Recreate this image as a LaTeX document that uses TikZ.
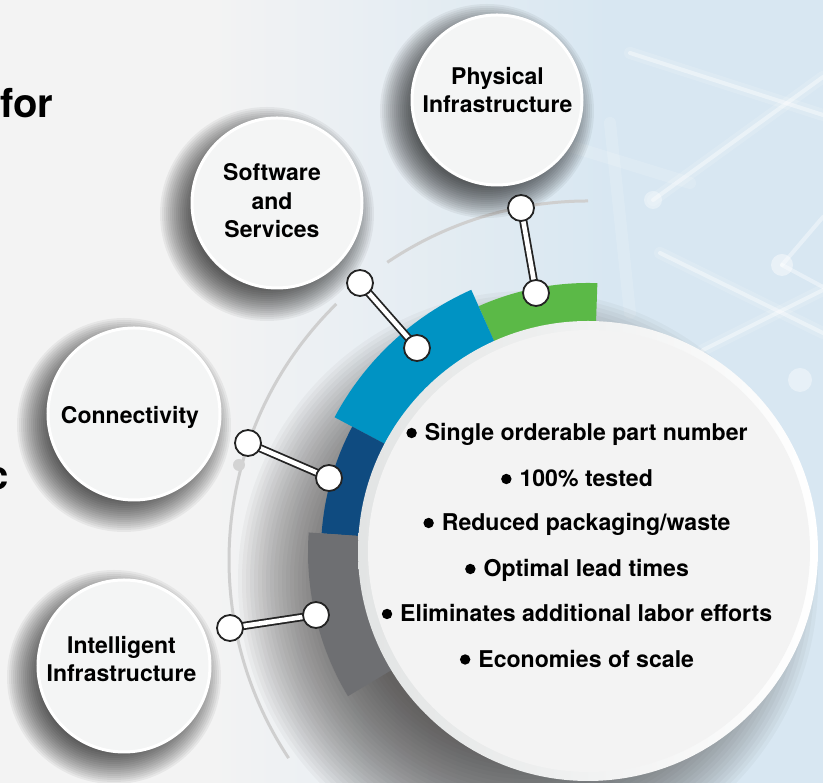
\documentclass[tikz,border=0pt]{standalone}
\usepackage{fontspec}
\setmainfont{TeX Gyre Heros}
\usetikzlibrary{calc}
\definecolor{bgL}{HTML}{F3F3F3}
\definecolor{bgR}{HTML}{D8E7F2}
\definecolor{cgreen}{HTML}{5BB947}
\definecolor{clblue}{HTML}{0093C3}
\definecolor{cdblue}{HTML}{0F4B80}
\definecolor{cgray}{HTML}{6E6F72}
\definecolor{thinarc}{HTML}{CFCFCF}
\definecolor{shd}{HTML}{3A3532}
\definecolor{satfill}{HTML}{F4F5F5}
\definecolor{mainfill}{HTML}{F3F3F3}
\definecolor{rimL}{HTML}{E2E4E4}
\definecolor{outl}{HTML}{232323}
\definecolor{dotc}{HTML}{D3D3D3}
\pgfdeclarehorizontalshading{bgshade}{100bp}{color(0bp)=(bgL); color(38bp)=(bgL); color(62bp)=(bgR); color(100bp)=(bgR)}
\newcommand\mybul{\tikz[baseline=-8pt]\fill[black] (0pt,0pt) circle[radius=5.2pt];\hspace{8pt}}
\tikzset{
  netline/.style={white, line width=4pt, opacity=0.4, line cap=round},
  netglow/.style={white, line width=12pt, opacity=0.15, line cap=round},
  satdisk/.style={circle, minimum size=#1, inner sep=0pt, fill=satfill, draw=white, line width=3pt},
  sattext/.style={align=center, font=\bfseries\fontsize{23}{28.5}\selectfont, text=black, inner sep=0pt},
  maintext/.style={anchor=base, font=\bfseries\fontsize{23.1}{28}\selectfont, text=black, inner sep=0pt},
  bigtext/.style={font=\bfseries\fontsize{40}{48}\selectfont, text=black, inner sep=0pt},
  conn/.style={draw=outl, line width=1.8pt, double=white, double distance=4.6pt},
  endc/.style={circle, minimum size=26pt, inner sep=0pt, fill=white, draw=outl, line width=1.8pt},
  thin/.style={thinarc, line width=3pt}
}
\begin{document}
\begin{tikzpicture}[x=1pt,y=1pt]
\useasboundingbox (0,0) rectangle (823,783);
% background
\shade[shading=bgshade] (0,0) rectangle (823,783);
% faint network
\draw[netglow] (630,730) -- (823,668);
\draw[netline] (630,730) -- (823,668);
\draw[netglow] (653,583) -- (823,706);
\draw[netline] (653,583) -- (823,706);
\draw[netglow] (660,530) -- (823,450);
\draw[netline] (660,530) -- (823,450);
\draw[netline] (782,518) -- (823,566);
\draw[netline] (782,518) -- (823,496);
\draw[netglow] (703,433) -- (823,493);
\draw[netline] (703,433) -- (823,493);
\draw[netglow] (610,660) -- (630,470);
\draw[netglow] (560,640) -- (690,600);
\fill[white, opacity=0.45] (782,518) circle[radius=11];
\fill[white, opacity=0.4] (800,403) circle[radius=12];
\fill[white, opacity=0.35] (653,583) circle[radius=9];
% big circle shadow
\foreach \r in {170,174,...,292} {
  \fill[shd, opacity=0.04] (528,202) circle[radius=\r];
}
% thin arcs
\draw[thin] (588,223) ++(90:359) arc[start angle=90, end angle=124, radius=359];
\draw[thin] (588,223) ++(134.5:359) arc[start angle=134.5, end angle=213.5, radius=359];
\fill[dotc] (239,318) circle[radius=6];
% coloured ring segments
\begin{scope}[shift={(588,231)}]
\fill[cgreen] (88:269) arc[start angle=88, end angle=114, radius=269] -- (114:215) arc[start angle=114, end angle=88, radius=215] -- cycle;
\fill[clblue] (114:287) arc[start angle=114, end angle=152, radius=287] -- (152:215) arc[start angle=152, end angle=114, radius=215] -- cycle;
\fill[cdblue] (152:267) arc[start angle=152, end angle=176, radius=267] -- (176:215) arc[start angle=176, end angle=152, radius=215] -- cycle;
\fill[cgray] (176:280) arc[start angle=176, end angle=211, radius=280] -- (211:215) arc[start angle=211, end angle=176, radius=215] -- cycle;
\end{scope}
% big circle
\shade[left color=rimL, right color=white] (588,232) circle[radius=230];
\fill[mainfill] (589,232) circle[radius=221];
% satellites: shadows
\foreach \cx/\cy in {497/683, 277/580, 134/369, 124/117} {
  \foreach \r in {75,77,...,107} {
    \fill[black, opacity=0.05] (\cx-10,\cy-11) circle[radius=\r];
  }
}
\node[satdisk=170pt] (phys) at (497,683) {};
\node[satdisk=170pt] (soft) at (277,580) {};
\node[satdisk=172pt] (conn) at (134,369) {};
\node[satdisk=172pt] (intel) at (124,117) {};
\node[sattext] (tphys) at (497.5,693) {Physical\\Infrastructure};
\node[sattext] (tsoft) at (272,582) {Software\\and\\Services};
\node[sattext] (tconn) at (130,366) {Connectivity};
\node[sattext] (tintel) at (121.5,124) {Intelligent\\Infrastructure};
% connectors
\coordinate (po) at (521,575); \coordinate (pi) at (536,490);
\coordinate (so) at (360,500); \coordinate (si) at (417,435);
\coordinate (co) at (248,340); \coordinate (ci) at (329,305);
\coordinate (io) at (230,155); \coordinate (ii) at (316,168);
\draw[conn] (po) -- (pi);
\draw[conn] (so) -- (si);
\draw[conn] (co) -- (ci);
\draw[conn] (io) -- (ii);
\node[endc] (npo) at (po) {};
\node[endc] (npi) at (pi) {};
\node[endc] (nso) at (so) {};
\node[endc] (nsi) at (si) {};
\node[endc] (nco) at (co) {};
\node[endc] (nci) at (ci) {};
\node[endc] (nio) at (io) {};
\node[endc] (nii) at (ii) {};
% main text
\node[maintext] (b1) at (577,342) {\mybul Single orderable part number};
\node[maintext] (b2) at (577,296) {\mybul 100\% tested};
\node[maintext] (b3) at (577,252) {\mybul Reduced packaging/waste};
\node[maintext] (b4) at (577,206) {\mybul Optimal lead times};
\node[maintext] (b5) at (577,161) {\mybul Eliminates additional labor efforts};
\node[maintext] (b6) at (577,115.5) {\mybul Economies of scale};
% cut-off heading fragments
\node[bigtext, anchor=base west] (tfor) at (0,665) {for};
\node[bigtext, anchor=base east] (tc) at (9,293) {c};
\end{tikzpicture}
\end{document}
